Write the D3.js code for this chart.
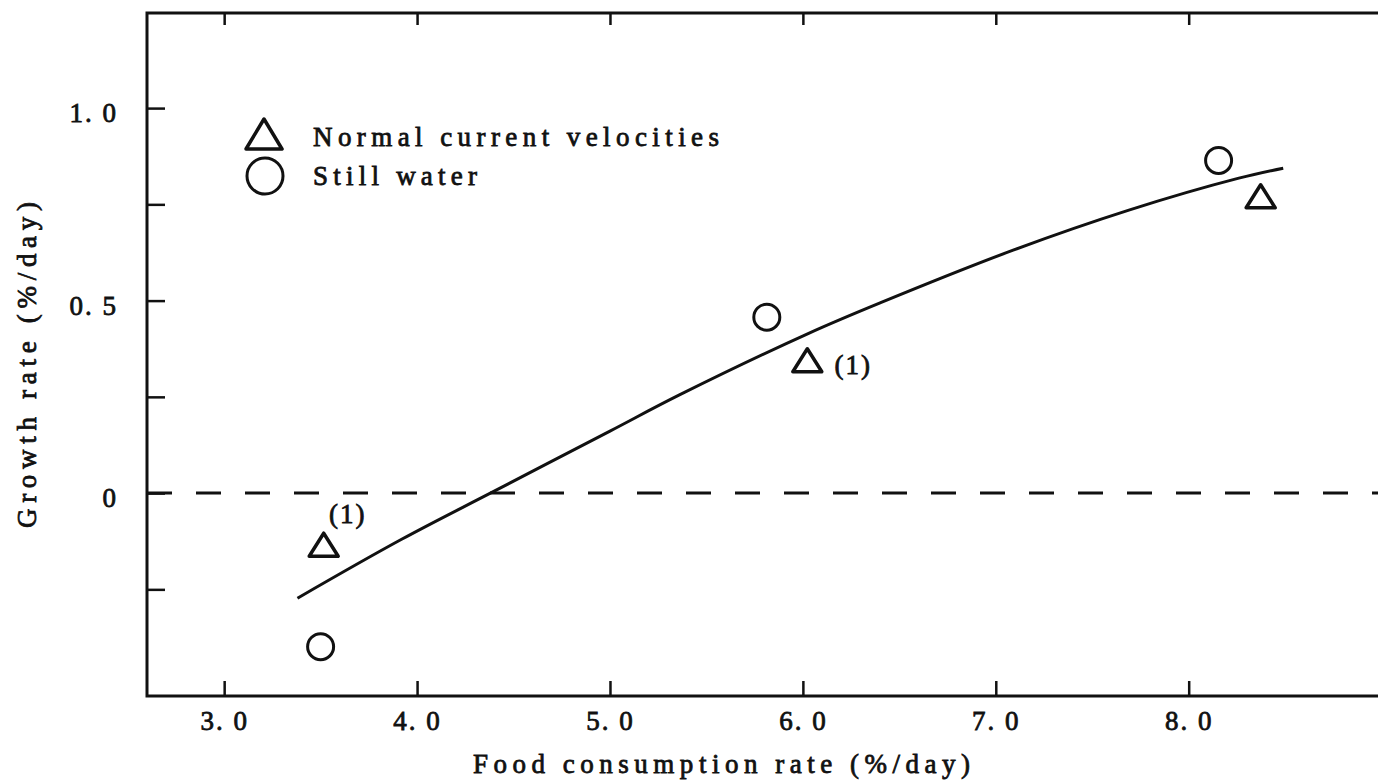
<!DOCTYPE html>
<html><head><meta charset="utf-8">
<script src="https://cdn.jsdelivr.net/npm/d3@7"></script>
<style>
body{margin:0;background:#fff}
svg{display:block}
text{font-family:"Liberation Serif",serif;fill:#111;stroke:#111;stroke-width:0.8px}
</style>
</head><body>
<svg id="c" width="1378" height="780"></svg>
<script>
// ---- data ----
const xTicks = [3, 4, 5, 6, 7, 8];
const xTickLabels = ["3. 0", "4. 0", "5. 0", "6. 0", "7. 0", "8. 0"];
const yTicks = [-0.25, 0, 0.25, 0.5, 0.75, 1.0];
const yTickLabels = ["", "0", "", "0. 5", "", "1. 0"];
const normalX = [3.516, 6.023, 8.373];
const normalY = [-0.134, 0.345, 0.771];
const normalNotes = ["(1)", "(1)", ""];
const stillX = [3.50, 5.813, 8.155];
const stillY = [-0.399, 0.457, 0.864];
const fitX = [3.38, 3.92, 4.40, 5.00, 5.36, 6.03, 6.40, 7.09, 7.69, 8.26, 8.49];
const fitY = [-0.273, -0.12, 0.005, 0.161, 0.255, 0.415, 0.494, 0.631, 0.735, 0.818, 0.844];
const xDomain = [2.6, 9.0];
const yDomain = [-0.527, 1.247];
const legendNames = ["Normal current velocities", "Still water"];
const xTitle = "Food consumption rate (%/day)";
const yTitle = "Growth rate (%/day)";

// ---- layout ----
const FONT = '"Liberation Serif", serif';
const FS = "27px";
const svg = d3.select("#c");
const x = d3.scaleLinear().domain(xDomain).range([147, 1381.6]);
const y = d3.scaleLinear().domain(yDomain).range([696, 13]);
const ink = "#111";

function triPath(cx, cy, w, h) {
  return `M${cx},${cy - h / 2}L${cx + w / 2},${cy + h / 2}L${cx - w / 2},${cy + h / 2}Z`;
}

// box
svg.append("rect")
  .attr("x", x(xDomain[0])).attr("y", y(yDomain[1]))
  .attr("width", x(xDomain[1]) - x(xDomain[0]))
  .attr("height", y(yDomain[0]) - y(yDomain[1]))
  .attr("fill", "none").attr("stroke", ink).attr("stroke-width", 3);

// bottom axis
const gx = svg.append("g").attr("transform", `translate(0,${y(yDomain[0])})`)
  .call(d3.axisBottom(x).tickValues(xTicks)
    .tickFormat((d, i) => xTickLabels[i])
    .tickSizeInner(-15).tickSizeOuter(0).tickPadding(16));
// top axis
const gt = svg.append("g").attr("transform", `translate(0,${y(yDomain[1])})`)
  .call(d3.axisTop(x).tickValues(xTicks).tickFormat("")
    .tickSizeInner(-12).tickSizeOuter(0));
// left axis
const gy = svg.append("g").attr("transform", `translate(${x(xDomain[0])},0)`)
  .call(d3.axisLeft(y).tickValues(yTicks)
    .tickFormat((d, i) => yTickLabels[i])
    .tickSizeInner(-18).tickSizeOuter(0).tickPadding(29));

[gx, gt, gy].forEach(g => {
  g.select(".domain").remove();
  g.selectAll(".tick line").attr("stroke", ink).attr("stroke-width", 2.5);
  g.selectAll(".tick text").attr("fill", ink)
    .style("font-family", FONT).style("font-size", FS)
    .style("letter-spacing", "2px");
});
gx.selectAll(".tick text").attr("dy", "0.66em");
gy.selectAll(".tick text").attr("dy", "0.5em");

// zero dashed line
svg.append("line")
  .attr("x1", x(xDomain[0])).attr("x2", 1378)
  .attr("y1", y(0)).attr("y2", y(0))
  .attr("stroke", ink).attr("stroke-width", 3)
  .attr("stroke-dasharray", "25,24");

// fitted curve
const fitData = fitX.map((v, i) => [v, fitY[i]]);
svg.append("path")
  .attr("d", d3.line().x(d => x(d[0])).y(d => y(d[1])).curve(d3.curveCatmullRom)(fitData))
  .attr("fill", "none").attr("stroke", ink).attr("stroke-width", 3);

// still water circles
svg.selectAll("circle.still").data(stillX.map((v, i) => [v, stillY[i]]))
  .enter().append("circle").attr("class", "still")
  .attr("cx", d => x(d[0])).attr("cy", d => y(d[1])).attr("r", 13)
  .attr("fill", "none").attr("stroke", ink).attr("stroke-width", 3);

// normal triangles
const normData = normalX.map((v, i) => [v, normalY[i], normalNotes[i]]);
svg.selectAll("path.norm").data(normData)
  .enter().append("path").attr("class", "norm")
  .attr("d", d => triPath(x(d[0]), y(d[1]), 29, 23))
  .attr("fill", "none").attr("stroke", ink).attr("stroke-width", 3.5)
  .attr("stroke-linejoin", "round");

// notes
svg.append("text").text(normData[0][2])
  .attr("x", x(normData[0][0]) + 24).attr("y", y(normData[0][1]) - 22)
  .attr("text-anchor", "middle").style("font-size", FS).style("letter-spacing", "2px");
svg.append("text").text(normData[1][2])
  .attr("x", x(normData[1][0]) + 46).attr("y", y(normData[1][1]) + 14)
  .attr("text-anchor", "middle").style("font-size", FS).style("letter-spacing", "2px");

// legend
svg.append("path").attr("d", triPath(264, 134, 36, 30))
  .attr("fill", "none").attr("stroke", ink).attr("stroke-width", 3.5)
  .attr("stroke-linejoin", "round");
svg.append("circle").attr("cx", 265).attr("cy", 176).attr("r", 18)
  .attr("fill", "none").attr("stroke", ink).attr("stroke-width", 3);
svg.append("text").text(legendNames[0]).attr("x", 313).attr("y", 146)
  .attr("textLength", 406).attr("lengthAdjust", "spacing").style("font-size", FS);
svg.append("text").text(legendNames[1]).attr("x", 313).attr("y", 185)
  .attr("textLength", 164).attr("lengthAdjust", "spacing").style("font-size", FS);

// axis titles
svg.append("text").text(xTitle).attr("x", 473).attr("y", 773)
  .attr("textLength", 497).attr("lengthAdjust", "spacing").style("font-size", FS);
svg.append("text").text(yTitle)
  .attr("transform", "translate(36,528) rotate(-90)")
  .attr("x", 0).attr("y", 0)
  .attr("textLength", 326).attr("lengthAdjust", "spacing").style("font-size", FS);
</script>
</body></html>
